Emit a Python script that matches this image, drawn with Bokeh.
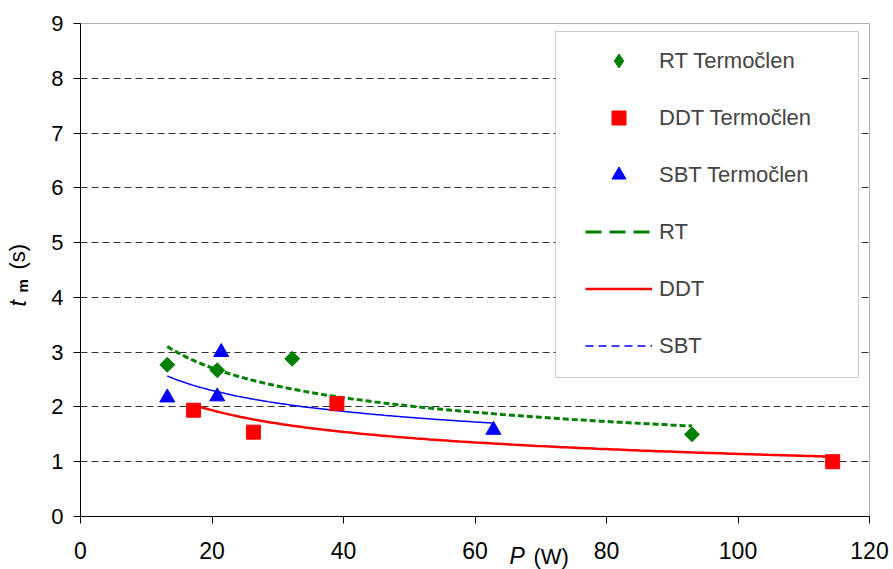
import numpy as np
from bokeh.plotting import figure
from bokeh.models import Legend, LegendItem, FixedTicker, Label, BoxAnnotation
from bokeh.embed import file_html
from bokeh.resources import INLINE

# Thermocouple measurements: heating power P (W) against time t_m (s)
rt_p = [13.2, 20.8, 32.2, 93.0]
rt_t = [2.77, 2.67, 2.88, 1.50]

ddt_p = [17.2, 26.3, 39.0, 114.4]
ddt_t = [1.94, 1.54, 2.06, 1.00]

sbt_p = [13.2, 21.4, 20.8, 62.8]
sbt_t = [2.17, 3.00, 2.19, 1.58]

x_ticks = [0, 20, 40, 60, 80, 100, 120]
y_ticks = [0, 1, 2, 3, 4, 5, 6, 7, 8, 9]

FONT = "Liberation Sans"
GREEN, RED, BLUE = "#008000", "#FF0000", "#0000FF"


def power_trend(p, t, n=150):
    """Least-squares power-law trend t = a * P^b over the measured span."""
    b, ln_a = np.polyfit(np.log(p), np.log(t), 1)
    xs = np.linspace(min(p), max(p), n)
    return xs, np.exp(ln_a) * xs ** b


# The data frame fills the whole canvas; the plotting box (0..120 x 0..9)
# sits inside it at these pixel edges, with the axes pinned to its sides.
W, H = 893, 569
BL, BR, BT, BB = 80, 869, 23, 516
X0, X1 = x_ticks[0], x_ticks[-1]
Y0, Y1 = y_ticks[0], y_ticks[-1]


def xd(px):
    return X0 + (px - BL) / (BR - BL) * (X1 - X0)


def yd(py):
    return Y0 + (BB - py) / (BB - BT) * (Y1 - Y0)


p = figure(width=W, height=H, x_range=(xd(0), xd(W)), y_range=(yd(H), yd(0)),
           output_backend="svg", toolbar_location=None, title_location=None,
           min_border=0)
p.outline_line_color = None
p.background_fill_color = "white"
p.border_fill_color = "white"

for ax, ticks, where in ((p.xaxis, x_ticks, Y0), (p.yaxis, y_ticks, X0)):
    ax.fixed_location = where
    ax.bounds = (ticks[0], ticks[-1])
    ax.ticker = FixedTicker(ticks=ticks)
    ax.major_label_text_font = FONT
    ax.major_label_text_color = "black"
    ax.axis_line_color = "black"
    ax.major_tick_line_color = "black"
    ax.major_tick_in = 0
    ax.major_tick_out = 7
    ax.minor_tick_line_color = None
p.xaxis.major_label_text_font_size = "23px"
p.yaxis.major_label_text_font_size = "22px"
p.xaxis.major_label_standoff = 18
p.yaxis.major_label_standoff = 10

# box around the plotting area (top and right edges)
p.add_layout(BoxAnnotation(left=X0, right=X1, bottom=Y0, top=Y1,
                           fill_color=None, line_color="black", line_width=1))

# dashed horizontal grid, limited to the plotting box
p.xgrid.visible = False
p.ygrid.ticker = FixedTicker(ticks=y_ticks[1:-1])
p.ygrid.grid_line_color = "#333333"
p.ygrid.grid_line_dash = "7 4"
p.ygrid.grid_line_width = 1
p.ygrid.cross_bounds = (X0, X1)

# power-law trend lines
rx, ry = power_trend(rt_p, rt_t)
dx, dy = power_trend(ddt_p, ddt_t)
sx, sy = power_trend(sbt_p, sbt_t)
p.line(sx, sy, color=BLUE, line_width=1.5)
p.line(dx, dy, color=RED, line_width=2.5)
p.line(rx, ry, color=GREEN, line_width=3, line_dash="6 3")

# legend swatches (a single NaN point, so nothing is drawn in the plot area)
nan = [float("nan")]
rt_key = p.line(nan, nan, color=GREEN, line_width=3, line_dash="16 8")
ddt_key = p.line(nan, nan, color=RED, line_width=2.5)
sbt_key = p.line(nan, nan, color=BLUE, line_width=1.5, line_dash="8 5")
rt_mark = p.scatter(nan, nan, marker="diamond", color=GREEN)

# measured points
rt_pts = p.scatter(rt_p, rt_t, marker="square", size=10.5, angle=np.pi / 4,
                   color=GREEN)
ddt_pts = p.scatter(ddt_p, ddt_t, marker="square", size=14, color=RED)
sbt_pts = p.scatter(sbt_p, sbt_t, marker="triangle", size=15, color=BLUE)

# legend panel: white box with a grey frame, entries laid over it
p.add_layout(BoxAnnotation(left=xd(555), right=xd(858), top=yd(31),
                           bottom=yd(377), fill_color="white", fill_alpha=1,
                           line_color="#555555", line_width=1))
legend = Legend(items=[
    LegendItem(label="RT Termočlen", renderers=[rt_mark]),
    LegendItem(label="DDT Termočlen", renderers=[ddt_pts]),
    LegendItem(label="SBT Termočlen", renderers=[sbt_pts]),
    LegendItem(label="RT", renderers=[rt_key]),
    LegendItem(label="DDT", renderers=[ddt_key]),
    LegendItem(label="SBT", renderers=[sbt_key]),
], location=(585, 206), padding=12, spacing=22, margin=0,
    glyph_width=67, glyph_height=35, label_height=22,
    label_standoff=7, label_text_font=FONT, label_text_font_size="22px",
    border_line_color=None, background_fill_alpha=0)
p.add_layout(legend)

# axis titles: t_m (s) and P (W)
common = dict(text_font=FONT, text_color="black", text_baseline="alphabetic",
              text_align="left")
p.add_layout(Label(x=xd(17.5), y=yd(306), text="t", angle=np.pi / 2,
                   text_font_style="italic", text_font_size="23px", **common))
p.add_layout(Label(x=xd(21.5), y=yd(292), text="m", angle=np.pi / 2,
                   text_font_style="bold", text_font_size="15px", **common))
p.add_layout(Label(x=xd(16.5), y=yd(269), text="(s)", angle=np.pi / 2,
                   text_font_size="22px", **common))
p.add_layout(Label(x=xd(509), y=yd(555.5), text="P", text_font_style="italic",
                   text_font_size="23px", **common))
p.add_layout(Label(x=xd(533), y=yd(555.5), text="(W)", text_font_size="22px",
                   **common))

open("out.html", "w").write(file_html(p, INLINE))
